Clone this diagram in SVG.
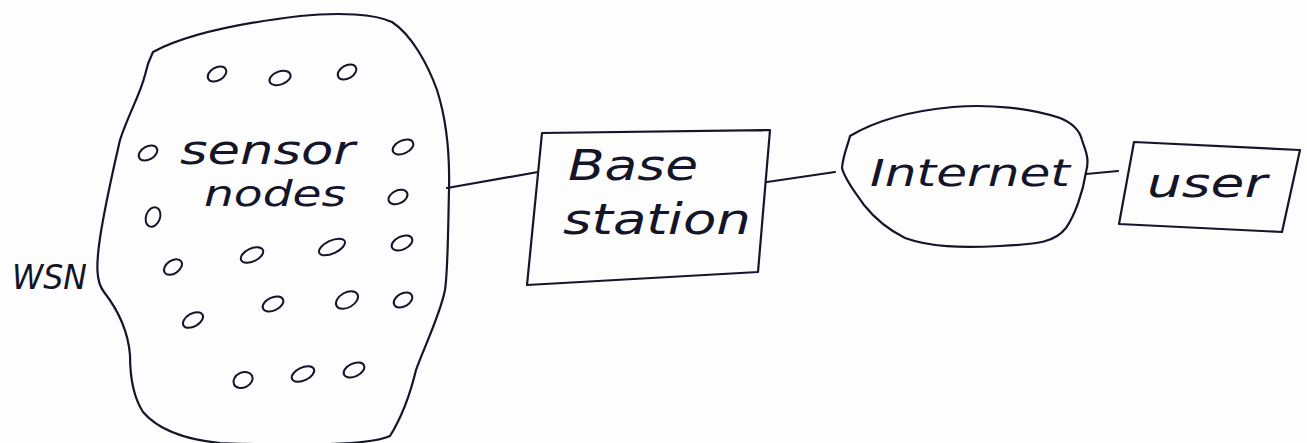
<svg xmlns="http://www.w3.org/2000/svg" width="1307" height="443" viewBox="0 0 1307 443">
<style>
.ink{fill:none;stroke:#15152a;stroke-width:2.2;stroke-linecap:round;stroke-linejoin:round}
.dot{fill:none;stroke:#15152a;stroke-width:2}
.hand{font-family:"DejaVu Sans","Liberation Sans",sans-serif;font-style:italic;font-weight:300;fill:#15152a}
</style>
<rect width="1307" height="443" fill="#fdfdfd"/>
<g id="connectors">
<path class="ink" d="M447,188 L538,172"/>
<path class="ink" d="M767,182 L835,172"/>
<path class="ink" d="M1086,174 L1118,171"/>
</g>
<g id="wsn">
<path class="ink" d="M153,52 C190,32 250,22 300,16 C340,12 375,14 392,22 C412,35 428,65 437,90 C445,115 450,150 449,190 C448,230 448,270 445,290 C440,315 425,345 416,370 C410,395 400,420 390,436 C370,445 300,446 220,443 C190,440 160,432 143,412 C132,395 130,375 130,355 C128,330 118,310 104,292 C96,282 96,265 100,238 C105,205 112,175 120,140 C128,115 140,95 145,75 C147,65 150,58 153,52 Z"/>
<text class="hand" x="12" y="289" font-size="34" textLength="75" lengthAdjust="spacingAndGlyphs">WSN</text>
<g id="sensor-dots">
<ellipse class="dot" cx="217" cy="74" rx="10" ry="6.5" transform="rotate(-30 217 74)"/>
<ellipse class="dot" cx="280" cy="78" rx="11" ry="6.5" transform="rotate(-20 280 78)"/>
<ellipse class="dot" cx="347" cy="72" rx="10" ry="6.5" transform="rotate(-30 347 72)"/>
<ellipse class="dot" cx="148" cy="153" rx="10" ry="6.5" transform="rotate(-30 148 153)"/>
<ellipse class="dot" cx="403" cy="147" rx="11" ry="6.5" transform="rotate(-25 403 147)"/>
<ellipse class="dot" cx="153" cy="217" rx="7" ry="10" transform="rotate(20 153 217)"/>
<ellipse class="dot" cx="398" cy="197" rx="10" ry="6.5" transform="rotate(-25 398 197)"/>
<ellipse class="dot" cx="173" cy="267" rx="10" ry="6.5" transform="rotate(-35 173 267)"/>
<ellipse class="dot" cx="252" cy="255" rx="12" ry="6.5" transform="rotate(-25 252 255)"/>
<ellipse class="dot" cx="332" cy="247" rx="14" ry="6.5" transform="rotate(-25 332 247)"/>
<ellipse class="dot" cx="402" cy="243" rx="11" ry="6.5" transform="rotate(-25 402 243)"/>
<ellipse class="dot" cx="193" cy="320" rx="11" ry="6.5" transform="rotate(-30 193 320)"/>
<ellipse class="dot" cx="273" cy="304" rx="11" ry="6.5" transform="rotate(-25 273 304)"/>
<ellipse class="dot" cx="347" cy="300" rx="12" ry="7.5" transform="rotate(-30 347 300)"/>
<ellipse class="dot" cx="403" cy="300" rx="10" ry="6.5" transform="rotate(-30 403 300)"/>
<ellipse class="dot" cx="243" cy="380" rx="10" ry="7.5" transform="rotate(-25 243 380)"/>
<ellipse class="dot" cx="303" cy="374" rx="12" ry="6.5" transform="rotate(-25 303 374)"/>
<ellipse class="dot" cx="354" cy="370" rx="11" ry="6.5" transform="rotate(-25 354 370)"/>
</g>
<text class="hand" x="180" y="164" font-size="40" textLength="175" lengthAdjust="spacingAndGlyphs">sensor</text>
<text class="hand" x="204" y="206" font-size="36" textLength="142" lengthAdjust="spacingAndGlyphs">nodes</text>
</g>
<g id="base-station">
<path class="ink" d="M542,133 L770,130 L758,272 L527,285 Z"/>
<text class="hand" x="568" y="180" font-size="42" textLength="130" lengthAdjust="spacingAndGlyphs">Base</text>
<text class="hand" x="563" y="234" font-size="42" textLength="188" lengthAdjust="spacingAndGlyphs">station</text>
</g>
<g id="internet">
<path class="ink" d="M850,136 C880,118 920,110 953,107 C990,104 1030,108 1060,118 C1075,124 1080,132 1082,140 C1085,150 1090,158 1086,172 C1083,192 1075,215 1066,228 C1055,242 1040,244 1000,246 C960,248 930,247 905,238 C885,228 872,215 864,205 C855,192 845,180 842,168 C843,155 848,145 850,136 Z"/>
<text class="hand" x="870" y="186" font-size="38" textLength="200" lengthAdjust="spacingAndGlyphs">Internet</text>
</g>
<g id="user">
<path class="ink" d="M1134,142 L1300,150 L1282,232 L1119,224 Z"/>
<text class="hand" x="1147" y="197" font-size="40" textLength="120" lengthAdjust="spacingAndGlyphs">user</text>
</g>
</svg>
